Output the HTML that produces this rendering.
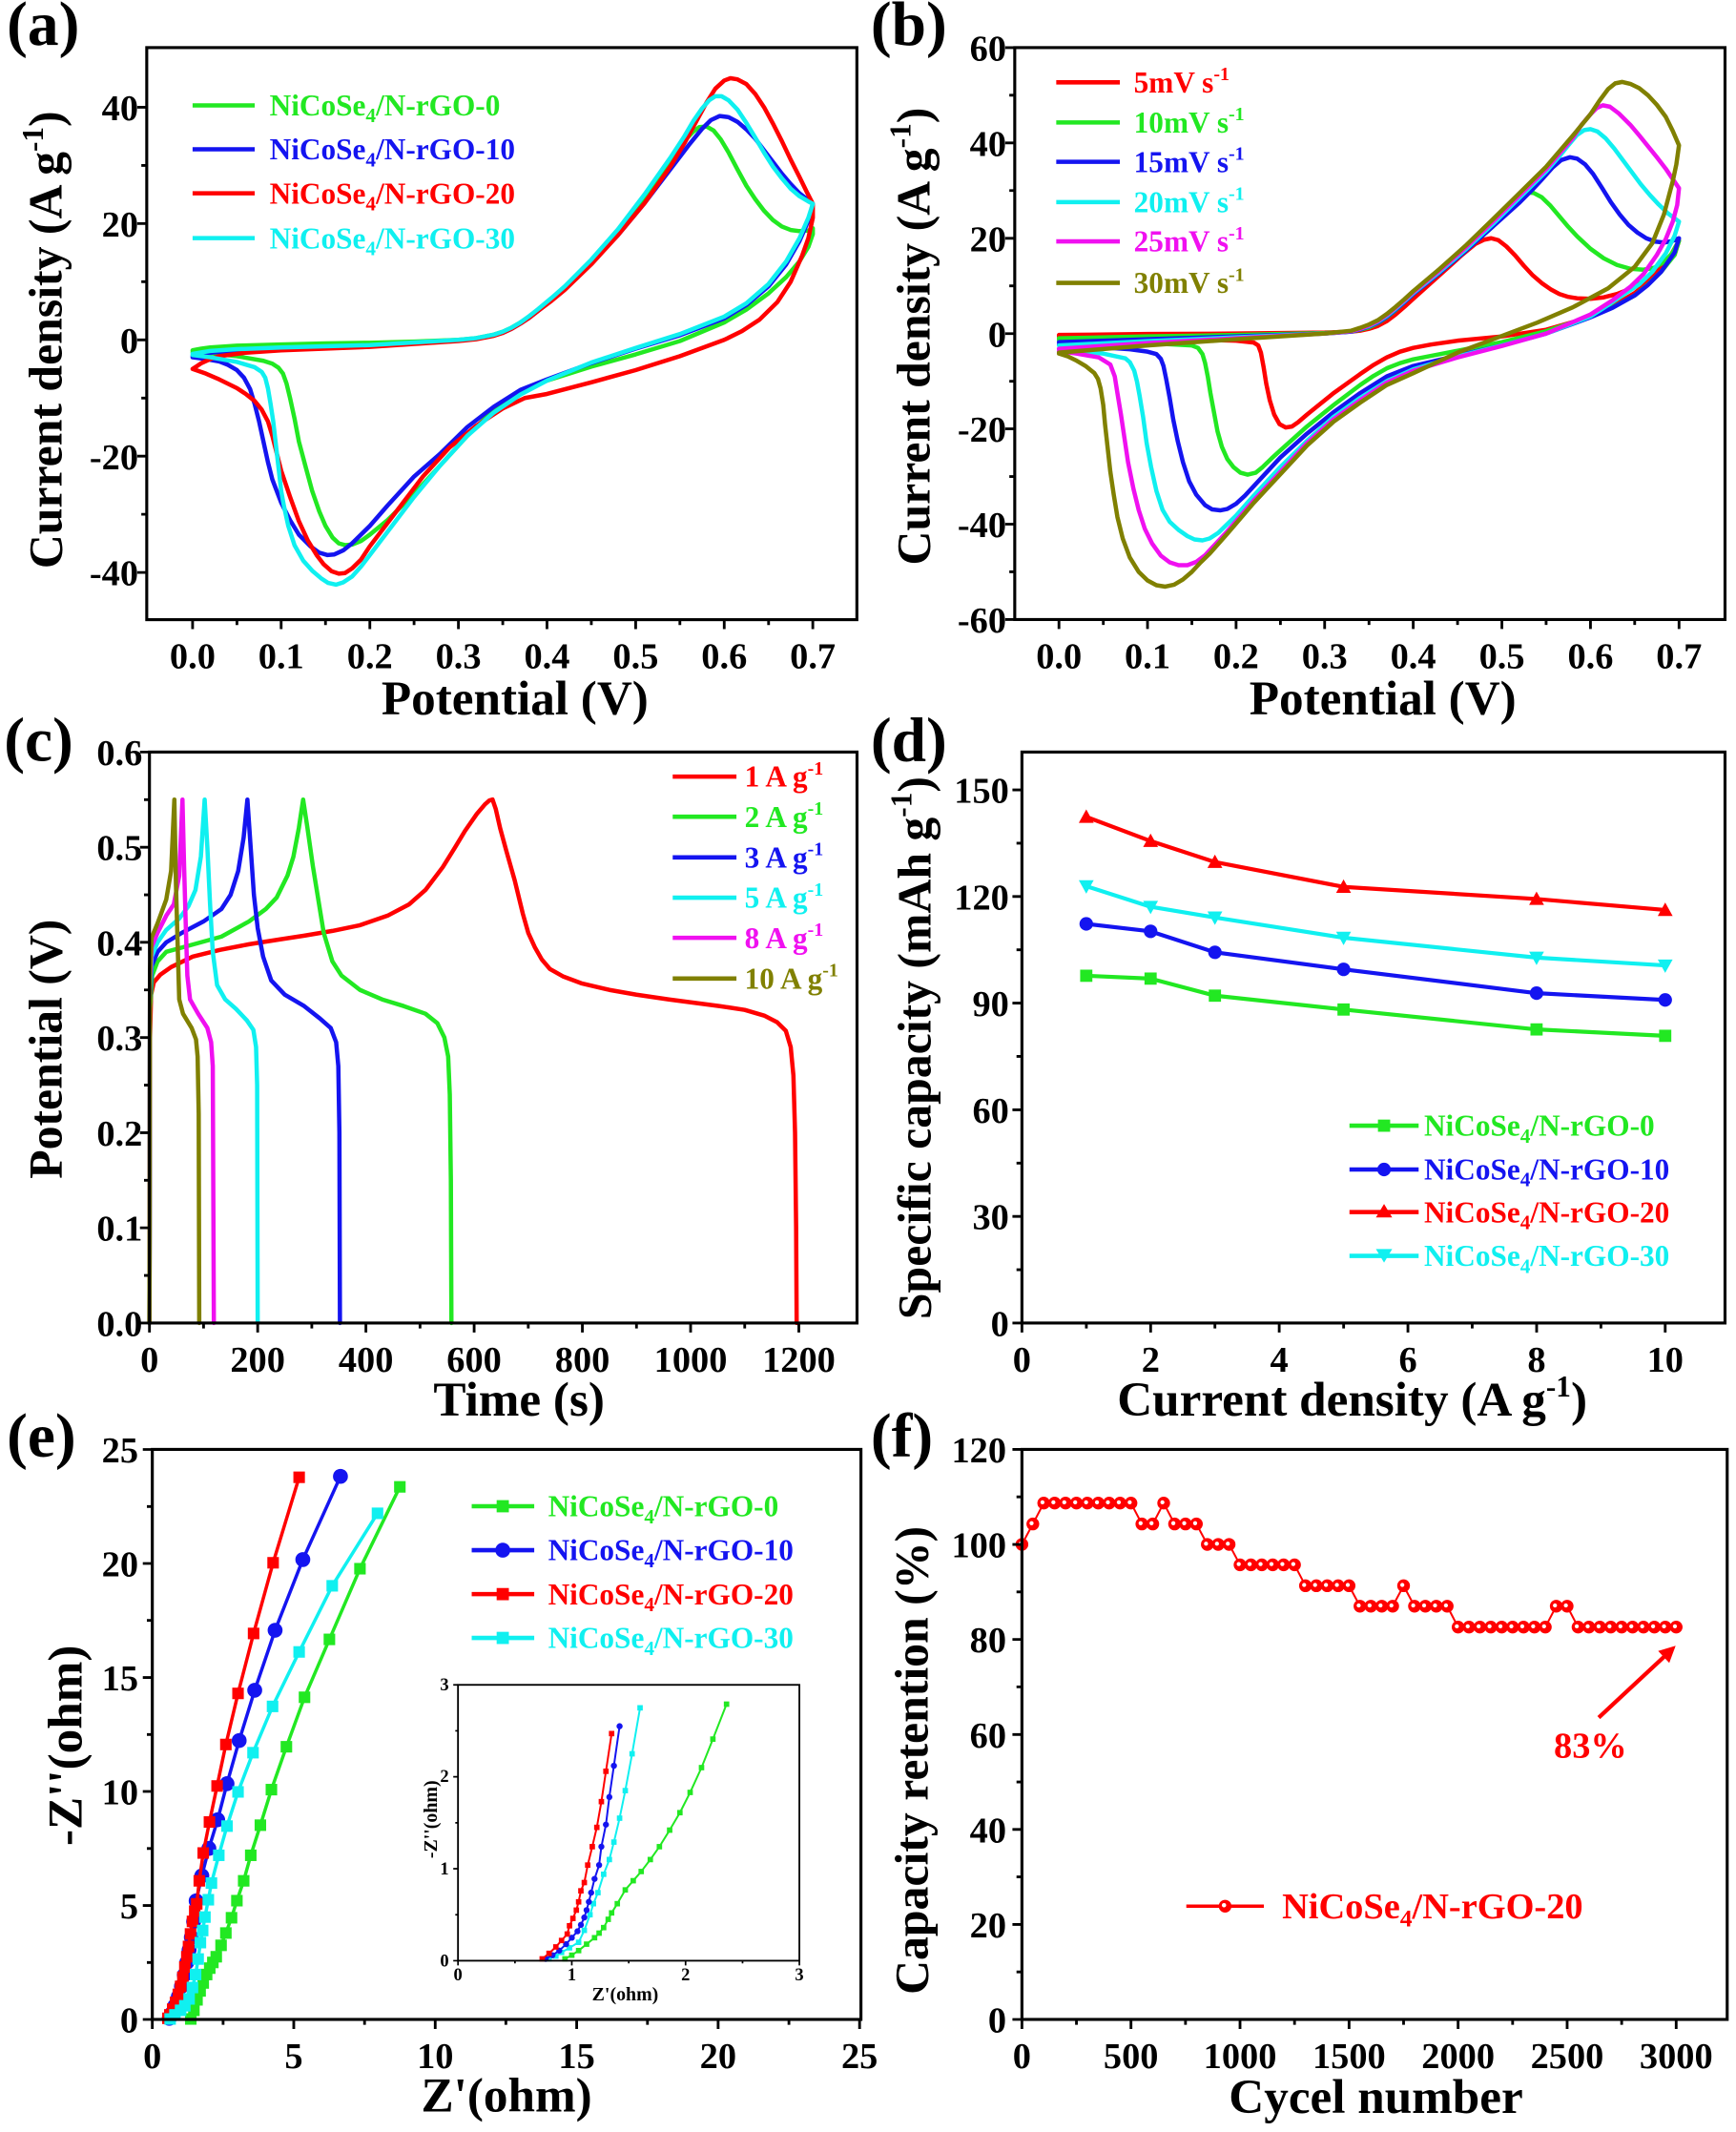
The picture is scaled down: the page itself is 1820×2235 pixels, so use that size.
<!DOCTYPE html>
<html><head><meta charset="utf-8">
<style>
html,body{margin:0;padding:0;background:#fff;}
svg{display:block;}
text{font-family:"Liberation Serif","Times New Roman",serif;font-weight:bold;}
.ns{fill:none;stroke-linejoin:round;stroke-linecap:round;}
</style></head>
<body>
<svg width="1820" height="2235" xmlns="http://www.w3.org/2000/svg">
<defs>
<marker id="dSq" markerUnits="userSpaceOnUse" markerWidth="0.1898" markerHeight="3.434" viewBox="0 0 10 10" refX="5" refY="5" preserveAspectRatio="none" overflow="visible"><rect width="10" height="10" fill="#22e822"/></marker>
<marker id="dCi" markerUnits="userSpaceOnUse" markerWidth="0.2108" markerHeight="3.816" viewBox="0 0 10 10" refX="5" refY="5" preserveAspectRatio="none" overflow="visible"><circle cx="5" cy="5" r="5" fill="#1414f0"/></marker>
<marker id="dTu" markerUnits="userSpaceOnUse" markerWidth="0.2319" markerHeight="4.197" viewBox="0 0 10 10" refX="5" refY="5" preserveAspectRatio="none" overflow="visible"><polygon points="5,10 0,1 10,1" fill="#ff0000"/></marker>
<marker id="dTd" markerUnits="userSpaceOnUse" markerWidth="0.2319" markerHeight="4.197" viewBox="0 0 10 10" refX="5" refY="5" preserveAspectRatio="none" overflow="visible"><polygon points="5,0 0,9 10,9" fill="#10f0f0"/></marker>
<marker id="eSqG" markerUnits="userSpaceOnUse" markerWidth="0.4075" markerHeight="0.5057" viewBox="0 0 10 10" refX="5" refY="5" preserveAspectRatio="none" overflow="visible"><rect width="10" height="10" fill="#22e822"/></marker>
<marker id="eSqR" markerUnits="userSpaceOnUse" markerWidth="0.4075" markerHeight="0.5057" viewBox="0 0 10 10" refX="5" refY="5" preserveAspectRatio="none" overflow="visible"><rect width="10" height="10" fill="#ff0000"/></marker>
<marker id="eSqC" markerUnits="userSpaceOnUse" markerWidth="0.4075" markerHeight="0.5057" viewBox="0 0 10 10" refX="5" refY="5" preserveAspectRatio="none" overflow="visible"><rect width="10" height="10" fill="#10f0f0"/></marker>
<marker id="eCiB" markerUnits="userSpaceOnUse" markerWidth="0.5273" markerHeight="0.6544" viewBox="0 0 10 10" refX="5" refY="5" preserveAspectRatio="none" overflow="visible"><circle cx="5" cy="5" r="5" fill="#1414f0"/></marker>
<marker id="iSqG" markerUnits="userSpaceOnUse" markerWidth="0.0477" markerHeight="0.059" viewBox="0 0 10 10" refX="5" refY="5" preserveAspectRatio="none" overflow="visible"><rect width="10" height="10" fill="#22e822"/></marker>
<marker id="iSqR" markerUnits="userSpaceOnUse" markerWidth="0.0477" markerHeight="0.059" viewBox="0 0 10 10" refX="5" refY="5" preserveAspectRatio="none" overflow="visible"><rect width="10" height="10" fill="#ff0000"/></marker>
<marker id="iSqC" markerUnits="userSpaceOnUse" markerWidth="0.0477" markerHeight="0.059" viewBox="0 0 10 10" refX="5" refY="5" preserveAspectRatio="none" overflow="visible"><rect width="10" height="10" fill="#10f0f0"/></marker>
<marker id="iCiB" markerUnits="userSpaceOnUse" markerWidth="0.0536" markerHeight="0.0664" viewBox="0 0 10 10" refX="5" refY="5" preserveAspectRatio="none" overflow="visible"><circle cx="5" cy="5" r="5" fill="#1414f0"/></marker>
<marker id="fCi" markerUnits="userSpaceOnUse" markerWidth="58.46" markerHeight="2.684" viewBox="0 0 10 10" refX="5" refY="5" preserveAspectRatio="none" overflow="visible"><circle cx="5" cy="5" r="5" fill="#ff0000"/><circle cx="4" cy="5.6" r="1.6" fill="#ffffff"/></marker>
</defs>

<g transform="scale(1.421875,1.421756)">

<!-- ================= PANEL A ================= -->
<text x="5" y="33" font-size="46">(a)</text>
<g transform="translate(142,250.6) scale(653.3,-4.2875)">
<polyline class="ns" vector-effect="non-scaling-stroke" stroke="#22e822" stroke-width="4.5" points="0,-1.8 0.01,-1.5 0.02,-1.3 0.05,-1.0 0.1,-0.8 0.15,-0.6 0.2,-0.5 0.25,-0.3 0.3,0 0.32,0.3 0.34,0.9 0.35,1.4 0.36,2.1 0.37,3 0.38,4 0.39,5.2 0.405,7 0.42,9 0.45,13.5 0.48,18.5 0.51,24 0.53,28.5 0.545,32 0.555,34.2 0.565,35.8 0.572,36.6 0.58,36.7 0.588,36 0.596,34.5 0.605,32.2 0.615,29.3 0.625,26.5 0.635,24.2 0.645,22.2 0.655,20.6 0.665,19.5 0.675,18.9 0.685,18.7 0.695,18.8 0.7,19.2 0.7,18.2 0.695,16 0.685,13.5 0.67,10.8 0.65,8 0.625,5.2 0.6,3 0.55,-0.2 0.5,-2.5 0.45,-4.6 0.4,-7 0.37,-8.7 0.34,-12 0.31,-16.5 0.28,-21.5 0.25,-26.5 0.22,-31 0.2,-33.5 0.19,-34.6 0.18,-35.2 0.172,-35.3 0.165,-35 0.158,-34 0.15,-32 0.143,-29.5 0.135,-26 0.127,-21.5 0.12,-17.5 0.115,-13.5 0.11,-10 0.106,-7.5 0.102,-5.8 0.097,-4.8 0.09,-4.1 0.08,-3.6 0.05,-2.8 0.02,-2.3 0,-2.1"/>
<polyline class="ns" vector-effect="non-scaling-stroke" stroke="#1414f0" stroke-width="4.5" points="0,-2.8 0.02,-2.2 0.05,-1.8 0.1,-1.5 0.2,-1.0 0.3,-0.1 0.32,0.2 0.34,0.8 0.35,1.2 0.36,1.9 0.37,2.8 0.38,3.8 0.39,5 0.405,6.8 0.42,8.8 0.45,13.2 0.48,18 0.51,23.5 0.54,29.5 0.56,33.5 0.575,36.3 0.585,37.8 0.595,38.5 0.605,38.3 0.615,37.5 0.625,36.2 0.635,34.6 0.645,32.6 0.655,30.6 0.665,28.6 0.675,26.8 0.685,25.2 0.695,24 0.7,23.4 0.695,20.5 0.685,17 0.67,13 0.65,9.2 0.625,6 0.6,3.7 0.55,0.8 0.5,-1.5 0.45,-4 0.4,-6.8 0.37,-8.6 0.34,-11.5 0.31,-15 0.28,-19.5 0.25,-23.5 0.22,-28.5 0.2,-32 0.19,-33.5 0.18,-35 0.17,-36.2 0.16,-36.9 0.152,-37 0.143,-36.6 0.133,-35.5 0.12,-33.5 0.11,-31 0.1,-28 0.09,-24 0.085,-21 0.08,-17.5 0.075,-14 0.07,-11 0.065,-8.5 0.058,-6.5 0.05,-5.2 0.04,-4.3 0.03,-3.7 0.015,-3.3 0,-3.0"/>
<polyline class="ns" vector-effect="non-scaling-stroke" stroke="#ff0000" stroke-width="4.5" points="0,-5 0.005,-4.5 0.01,-4 0.02,-3.3 0.03,-2.8 0.06,-2.2 0.1,-1.8 0.2,-1.2 0.3,-0.2 0.32,0.1 0.34,0.7 0.35,1.2 0.36,1.9 0.37,2.8 0.38,3.8 0.39,5 0.405,6.7 0.42,8.6 0.45,13 0.48,18 0.51,23.5 0.54,30 0.555,33.8 0.57,38 0.58,40.8 0.59,43.2 0.6,44.6 0.607,45 0.615,44.8 0.625,44 0.635,42.3 0.645,40 0.655,37.2 0.665,34.2 0.675,31 0.685,28 0.693,25.5 0.7,23.4 0.7,21 0.695,17.5 0.688,14.5 0.675,10 0.66,6.5 0.64,3.5 0.62,1.5 0.6,0 0.55,-2.8 0.5,-5.2 0.45,-7.3 0.4,-9.3 0.375,-10 0.35,-11.8 0.32,-14.8 0.29,-18.5 0.26,-23.5 0.23,-29.5 0.2,-35.5 0.19,-37.8 0.18,-39.3 0.172,-40.1 0.165,-40.2 0.157,-39.8 0.148,-38.6 0.14,-37 0.13,-34.5 0.12,-31.2 0.11,-27 0.1,-22.5 0.095,-19.5 0.09,-16.5 0.085,-14 0.078,-12 0.07,-10.5 0.06,-9.3 0.05,-8.3 0.03,-6.8 0.015,-5.8 0,-5"/>
<polyline class="ns" vector-effect="non-scaling-stroke" stroke="#10f0f0" stroke-width="4.5" points="0,-2.4 0.02,-1.9 0.05,-1.6 0.1,-1.3 0.2,-0.9 0.3,0 0.32,0.3 0.34,0.9 0.35,1.4 0.36,2.1 0.37,3 0.38,4.1 0.39,5.3 0.405,7.2 0.42,9.2 0.45,13.8 0.48,19 0.51,25 0.54,31.5 0.555,35 0.565,37.6 0.575,39.8 0.583,41.2 0.59,41.9 0.597,41.9 0.605,41.2 0.615,39.6 0.625,37.3 0.635,34.8 0.645,32.2 0.655,29.8 0.665,27.8 0.675,26 0.685,24.7 0.695,23.8 0.7,23.4 0.695,21 0.685,17.5 0.67,13.5 0.65,9.6 0.625,6.3 0.6,4 0.55,1 0.5,-1.4 0.45,-3.9 0.4,-7 0.37,-9.4 0.34,-12.5 0.31,-16.5 0.28,-21.5 0.25,-27 0.22,-33 0.2,-37 0.19,-39 0.18,-40.7 0.17,-41.7 0.162,-42.1 0.153,-41.8 0.145,-41 0.135,-39.7 0.125,-38 0.115,-35.3 0.108,-32 0.103,-28.5 0.1,-26 0.097,-22 0.094,-18 0.091,-14 0.088,-11 0.085,-8.3 0.082,-6.5 0.078,-5.5 0.07,-4.7 0.05,-3.8 0.02,-3 0,-2.6"/>
</g>
<rect x="108.2" y="35.1" width="523.6" height="421.8" fill="none" stroke="#000" stroke-width="2.2"/>
<path stroke="#000" stroke-width="2" fill="none" d="M142 456.9v7M207.3 456.9v7M272.7 456.9v7M338 456.9v7M403.3 456.9v7M468.7 456.9v7M534 456.9v7M599.3 456.9v7M174.7 456.9v4M240 456.9v4M305.3 456.9v4M370.7 456.9v4M436 456.9v4M501.3 456.9v4M566.7 456.9v4M108.2 79.1h-7M108.2 164.85h-7M108.2 250.6h-7M108.2 336.35h-7M108.2 422.1h-7M108.2 122h-4M108.2 207.7h-4M108.2 293.5h-4M108.2 379.2h-4"/>
<g font-size="27" text-anchor="middle">
<text x="142" y="492.6">0.0</text><text x="207.3" y="492.6">0.1</text><text x="272.7" y="492.6">0.2</text><text x="338" y="492.6">0.3</text><text x="403.3" y="492.6">0.4</text><text x="468.7" y="492.6">0.5</text><text x="534" y="492.6">0.6</text><text x="599.3" y="492.6">0.7</text>
</g>
<g font-size="27" text-anchor="end">
<text x="102" y="88.6">40</text><text x="102" y="174.4">20</text><text x="102" y="260.1">0</text><text x="102" y="345.9">-20</text><text x="102" y="431.6">-40</text>
</g>
<text x="379.7" y="527" font-size="36" text-anchor="middle">Potential (V)</text>
<text transform="translate(45.5,250.6) rotate(-90)" font-size="35" text-anchor="middle">Current density (A g<tspan font-size="22" dy="-14">-1</tspan><tspan dy="14">)</tspan></text>
<g stroke-width="3.2">
<line x1="142" y1="77.7" x2="187.8" y2="77.7" stroke="#22e822"/>
<line x1="142" y1="110.1" x2="187.8" y2="110.1" stroke="#1414f0"/>
<line x1="142" y1="142.5" x2="187.8" y2="142.5" stroke="#ff0000"/>
<line x1="142" y1="175.6" x2="187.8" y2="175.6" stroke="#10f0f0"/>
</g>
<g font-size="22">
<text x="198.8" y="85.2" fill="#22e822">NiCoSe<tspan font-size="15" dy="5">4</tspan><tspan dy="-5">/N-rGO-0</tspan></text>
<text x="198.8" y="117.6" fill="#1414f0">NiCoSe<tspan font-size="15" dy="5">4</tspan><tspan dy="-5">/N-rGO-10</tspan></text>
<text x="198.8" y="150" fill="#ff0000">NiCoSe<tspan font-size="15" dy="5">4</tspan><tspan dy="-5">/N-rGO-20</tspan></text>
<text x="198.8" y="183.1" fill="#10f0f0">NiCoSe<tspan font-size="15" dy="5">4</tspan><tspan dy="-5">/N-rGO-30</tspan></text>
</g>

<!-- ================= PANEL B ================= -->
<text x="642" y="33" font-size="46">(b)</text>
<g transform="translate(780.8,245.95) scale(653.1,-3.514)">
<polyline class="ns" vector-effect="non-scaling-stroke" stroke="#ff0000" stroke-width="4.5" points="0,-0.3 0.1,-0.1 0.2,0 0.3,0.2 0.33,0.4 0.34,0.6 0.35,1 0.36,1.6 0.37,2.6 0.38,4 0.39,5.6 0.4,7.3 0.415,9.8 0.43,12.3 0.445,14.8 0.455,16.5 0.47,18.8 0.48,19.7 0.488,20 0.496,19.6 0.505,18.3 0.515,16.4 0.525,14.2 0.535,12.2 0.545,10.6 0.555,9.3 0.565,8.3 0.575,7.7 0.585,7.4 0.6,7.3 0.615,7.6 0.63,8.3 0.645,9.4 0.66,11 0.675,13.2 0.69,16.2 0.7,19.5 0.695,16.5 0.68,13.5 0.665,10.8 0.65,8.5 0.625,5.7 0.6,3.5 0.55,0.8 0.5,-0.6 0.45,-1.5 0.42,-2.3 0.4,-3 0.385,-3.8 0.37,-5 0.355,-6.6 0.34,-8.5 0.31,-12.5 0.29,-15.5 0.28,-17 0.27,-18.6 0.263,-19.5 0.256,-19.7 0.249,-19 0.243,-17 0.238,-14 0.234,-10.5 0.231,-7 0.228,-4 0.225,-2.5 0.22,-1.9 0.2,-1.5 0.1,-1 0,-0.6"/>
<polyline class="ns" vector-effect="non-scaling-stroke" stroke="#22e822" stroke-width="4.5" points="0,-1 0.1,-0.6 0.2,-0.3 0.3,0.1 0.33,0.4 0.34,0.8 0.35,1.3 0.36,2.2 0.37,3.4 0.38,4.9 0.39,6.6 0.4,8.3 0.43,12.8 0.46,17.5 0.49,22.5 0.5,24.5 0.51,26.8 0.52,28.8 0.528,29.6 0.536,29.5 0.545,28.6 0.555,26.8 0.565,24.6 0.575,22.4 0.585,20.4 0.6,17.8 0.615,15.8 0.63,14.4 0.645,13.6 0.66,13.4 0.672,13.8 0.683,15 0.692,16.8 0.7,19.5 0.695,16.5 0.68,13 0.665,10.3 0.65,8 0.625,5.5 0.6,3.6 0.55,0.5 0.5,-1.8 0.45,-3.6 0.4,-5.4 0.385,-6.2 0.37,-7.3 0.355,-8.9 0.34,-10.8 0.31,-15 0.28,-19.5 0.25,-24.5 0.24,-26.2 0.23,-28 0.222,-29.2 0.213,-29.6 0.205,-29.2 0.197,-28 0.19,-26.3 0.184,-23.8 0.179,-20.5 0.175,-16.5 0.171,-12.5 0.168,-9 0.165,-6.2 0.162,-4.3 0.157,-3 0.15,-2.5 0.1,-2 0,-1.3"/>
<polyline class="ns" vector-effect="non-scaling-stroke" stroke="#1414f0" stroke-width="4.5" points="0,-1.8 0.1,-1.2 0.2,-0.6 0.3,0 0.33,0.4 0.34,0.9 0.35,1.5 0.36,2.3 0.37,3.5 0.38,5 0.39,6.6 0.4,8.3 0.43,12.8 0.46,17.5 0.49,22.5 0.52,27.5 0.535,30.3 0.545,32.3 0.557,34.8 0.567,36.4 0.577,37 0.585,36.7 0.594,35.5 0.603,33.5 0.613,30.6 0.623,27.6 0.633,25 0.643,22.8 0.653,21.2 0.663,20 0.673,19.3 0.683,19.1 0.692,19.4 0.7,20 0.695,17 0.68,13 0.665,10.2 0.65,8 0.625,5.4 0.6,3.4 0.55,0 0.5,-2.5 0.45,-4.6 0.4,-6.8 0.37,-9 0.34,-12.5 0.31,-16.5 0.28,-21 0.25,-26 0.23,-30 0.22,-32 0.21,-34 0.2,-35.7 0.19,-36.8 0.182,-37.1 0.173,-36.9 0.165,-36 0.155,-33.8 0.147,-31 0.14,-27 0.134,-22.5 0.129,-18 0.125,-13.5 0.121,-9.5 0.118,-6.8 0.115,-5.3 0.11,-4.3 0.1,-3.8 0.08,-3.3 0,-2.3"/>
<polyline class="ns" vector-effect="non-scaling-stroke" stroke="#10f0f0" stroke-width="4.5" points="0,-2.5 0.1,-1.6 0.2,-0.8 0.3,0 0.33,0.5 0.34,1 0.35,1.6 0.36,2.5 0.37,3.7 0.38,5.2 0.39,6.8 0.4,8.5 0.43,13 0.46,17.8 0.49,23 0.52,28.5 0.55,34 0.565,37.2 0.575,39.5 0.585,41.7 0.593,42.7 0.6,42.9 0.608,42.4 0.617,41 0.627,38.8 0.637,36.3 0.647,33.8 0.657,31.3 0.667,29.1 0.677,27.1 0.687,25.3 0.7,23.5 0.695,20.5 0.685,16.8 0.67,13 0.655,10.3 0.64,8.5 0.62,6 0.6,3.6 0.55,0 0.5,-2.5 0.45,-4.8 0.4,-7.5 0.37,-10 0.34,-13.5 0.31,-17.5 0.28,-22.5 0.25,-28 0.22,-34 0.2,-38.2 0.19,-40 0.18,-41.8 0.17,-43 0.162,-43.4 0.153,-43.2 0.145,-42.5 0.135,-41.2 0.125,-39.5 0.117,-37 0.11,-33 0.104,-28 0.099,-23 0.095,-17.5 0.091,-13 0.088,-10 0.085,-7.8 0.08,-6 0.075,-5.2 0.05,-4.2 0,-3.2"/>
<polyline class="ns" vector-effect="non-scaling-stroke" stroke="#f010f0" stroke-width="4.5" points="0,-3.2 0.1,-2 0.2,-1 0.3,0 0.33,0.5 0.34,1 0.35,1.7 0.36,2.6 0.37,3.9 0.38,5.4 0.39,7 0.4,8.7 0.43,13.3 0.46,18.2 0.49,23.5 0.52,29 0.55,34.5 0.58,41 0.59,43.8 0.6,46 0.607,47.3 0.614,47.9 0.622,47.6 0.632,46.2 0.645,43.8 0.655,41.6 0.665,39.3 0.675,37 0.685,34.6 0.693,32.4 0.7,30.5 0.698,27 0.693,23.5 0.685,19.8 0.675,16.5 0.66,12.5 0.645,9.8 0.625,7 0.6,4 0.55,0 0.5,-2.6 0.45,-5 0.4,-7.8 0.37,-10.3 0.34,-14 0.31,-18 0.28,-23 0.25,-29 0.22,-35 0.19,-41.5 0.175,-44.5 0.165,-46.5 0.155,-47.9 0.145,-48.6 0.135,-48.6 0.125,-48 0.115,-46.6 0.105,-44 0.097,-41 0.09,-37 0.084,-32.5 0.078,-27 0.074,-22 0.07,-17 0.066,-12.5 0.063,-9 0.058,-6.5 0.045,-5 0.02,-4.2 0,-3.7"/>
<polyline class="ns" vector-effect="non-scaling-stroke" stroke="#808000" stroke-width="4.5" points="0,-4 0.1,-2.5 0.2,-1.2 0.3,0 0.33,0.6 0.34,1.2 0.35,1.9 0.36,2.8 0.37,4.1 0.38,5.6 0.39,7.2 0.4,8.9 0.43,13.6 0.46,18.6 0.49,24 0.52,29.5 0.55,35 0.58,41.5 0.6,46 0.61,48.8 0.62,51.3 0.628,52.5 0.636,52.8 0.645,52.4 0.655,51.5 0.665,50 0.675,48 0.685,45.5 0.693,42.5 0.7,39.5 0.697,35.5 0.693,32 0.683,25 0.67,19 0.65,14 0.62,9.5 0.58,5.5 0.54,2.3 0.5,-0.5 0.45,-4 0.4,-8.3 0.37,-10.8 0.34,-14.5 0.31,-18.5 0.28,-23.5 0.25,-29.5 0.22,-35.5 0.19,-42 0.17,-46.2 0.16,-48 0.15,-50 0.14,-51.6 0.13,-52.7 0.12,-53.1 0.11,-52.8 0.1,-51.8 0.09,-50 0.08,-47 0.072,-43 0.066,-38.5 0.062,-34 0.058,-29 0.055,-24 0.052,-19 0.05,-15 0.047,-11.5 0.044,-9.5 0.04,-8.3 0.03,-6.8 0.02,-5.7 0.01,-4.8 0,-4.2"/>
</g>
<rect x="748.2" y="35.1" width="523.7" height="421.7" fill="none" stroke="#000" stroke-width="2.2"/>
<path stroke="#000" stroke-width="2" fill="none" d="M780.8 456.8v7M846.1 456.8v7M911.4 456.8v7M976.7 456.8v7M1042 456.8v7M1107.4 456.8v7M1172.7 456.8v7M1238 456.8v7M813.5 456.8v4M878.8 456.8v4M944.1 456.8v4M1009.4 456.8v4M1074.7 456.8v4M1140 456.8v4M1205.3 456.8v4M748.2 35.1h-7M748.2 105.4h-7M748.2 175.7h-7M748.2 246h-7M748.2 316.2h-7M748.2 386.5h-7M748.2 456.8h-7M748.2 70.2h-4M748.2 140.5h-4M748.2 210.8h-4M748.2 281.1h-4M748.2 351.4h-4M748.2 421.6h-4"/>
<g font-size="27" text-anchor="middle">
<text x="780.8" y="492.6">0.0</text><text x="846.1" y="492.6">0.1</text><text x="911.4" y="492.6">0.2</text><text x="976.7" y="492.6">0.3</text><text x="1042" y="492.6">0.4</text><text x="1107.4" y="492.6">0.5</text><text x="1172.7" y="492.6">0.6</text><text x="1238" y="492.6">0.7</text>
</g>
<g font-size="27" text-anchor="end">
<text x="742" y="44.6">60</text><text x="742" y="114.9">40</text><text x="742" y="185.2">20</text><text x="742" y="255.5">0</text><text x="742" y="325.7">-20</text><text x="742" y="396">-40</text><text x="742" y="466.3">-60</text>
</g>
<text x="1019.6" y="527" font-size="36" text-anchor="middle">Potential (V)</text>
<text transform="translate(685.3,248) rotate(-90)" font-size="35" text-anchor="middle">Current density (A g<tspan font-size="22" dy="-14">-1</tspan><tspan dy="14">)</tspan></text>
<g stroke-width="3.2">
<line x1="778.8" y1="60.7" x2="825.7" y2="60.7" stroke="#ff0000"/>
<line x1="778.8" y1="90.3" x2="825.7" y2="90.3" stroke="#22e822"/>
<line x1="778.8" y1="119.3" x2="825.7" y2="119.3" stroke="#1414f0"/>
<line x1="778.8" y1="149" x2="825.7" y2="149" stroke="#10f0f0"/>
<line x1="778.8" y1="178" x2="825.7" y2="178" stroke="#f010f0"/>
<line x1="778.8" y1="208.6" x2="825.7" y2="208.6" stroke="#808000"/>
</g>
<g font-size="22">
<text x="836" y="68.2" fill="#ff0000">5mV s<tspan font-size="14" dy="-9">-1</tspan></text>
<text x="836" y="97.8" fill="#22e822">10mV s<tspan font-size="14" dy="-9">-1</tspan></text>
<text x="836" y="126.8" fill="#1414f0">15mV s<tspan font-size="14" dy="-9">-1</tspan></text>
<text x="836" y="156.5" fill="#10f0f0">20mV s<tspan font-size="14" dy="-9">-1</tspan></text>
<text x="836" y="185.5" fill="#f010f0">25mV s<tspan font-size="14" dy="-9">-1</tspan></text>
<text x="836" y="216.1" fill="#808000">30mV s<tspan font-size="14" dy="-9">-1</tspan></text>
</g>

<!-- ================= PANEL C ================= -->
<text x="3" y="561" font-size="46">(c)</text>
<g transform="translate(110.2,975.5) scale(0.399,-701.7)">
<polyline class="ns" vector-effect="non-scaling-stroke" stroke="#ff0000" stroke-width="4.5" points="0,0 1,0.3 3,0.345 8,0.358 20,0.366 40,0.374 80,0.385 130,0.392 184,0.398 240,0.403 286,0.407 338,0.412 389,0.418 440,0.428 480,0.44 510,0.455 542,0.479 565,0.5 583,0.517 605,0.535 620,0.545 628,0.549 634,0.55 640,0.54 648,0.52 660,0.495 675,0.465 690,0.43 700,0.41 712,0.395 725,0.382 740,0.372 765,0.364 798,0.357 850,0.35 900,0.345 960,0.34 1054,0.333 1100,0.329 1136,0.323 1160,0.316 1176,0.307 1185,0.29 1190,0.26 1193,0.2 1195,0.1 1196,0"/>
<polyline class="ns" vector-effect="non-scaling-stroke" stroke="#22e822" stroke-width="4.5" points="0,0 1,0.33 5,0.365 15,0.38 31,0.39 82,0.398 133,0.406 184,0.422 215,0.435 235,0.447 255,0.47 266,0.49 276,0.52 284,0.55 292,0.52 302,0.48 312,0.445 322,0.41 338,0.38 355,0.365 389,0.35 430,0.34 470,0.333 510,0.325 532,0.315 545,0.3 552,0.28 555,0.24 557,0.15 558,0"/>
<polyline class="ns" vector-effect="non-scaling-stroke" stroke="#1414f0" stroke-width="4.5" points="0,0 1,0.34 4,0.375 15,0.39 31,0.4 60,0.41 100,0.422 133,0.435 150,0.45 164,0.475 174,0.51 181,0.55 187,0.5 193,0.45 200,0.415 210,0.385 225,0.36 250,0.345 286,0.333 315,0.32 335,0.31 345,0.295 349,0.27 351,0.2 352,0"/>
<polyline class="ns" vector-effect="non-scaling-stroke" stroke="#10f0f0" stroke-width="4.5" points="0,0 1,0.35 4,0.385 15,0.4 31,0.413 55,0.425 72,0.438 85,0.455 95,0.49 102,0.55 107,0.5 112,0.44 117,0.39 125,0.355 140,0.34 160,0.33 180,0.318 192,0.308 197,0.29 199,0.25 200,0"/>
<polyline class="ns" vector-effect="non-scaling-stroke" stroke="#f010f0" stroke-width="4.5" points="0,0 1,0.36 4,0.395 15,0.41 31,0.428 45,0.44 55,0.47 61,0.55 64,0.48 67,0.42 70,0.365 75,0.34 90,0.325 107,0.31 114,0.295 117,0.27 119,0"/>
<polyline class="ns" vector-effect="non-scaling-stroke" stroke="#808000" stroke-width="4.5" points="0,0 1,0.37 4,0.405 15,0.42 31,0.445 40,0.475 46,0.55 49,0.46 52,0.4 55,0.34 62,0.325 78,0.31 86,0.298 89,0.28 91,0.22 92,0"/>
</g>
<rect x="110.2" y="554.5" width="521.7" height="421" fill="none" stroke="#000" stroke-width="2.2"/>
<path stroke="#000" stroke-width="2" fill="none" d="M110.2 975.5v7M190 975.5v7M269.8 975.5v7M349.6 975.5v7M429.4 975.5v7M509.2 975.5v7M589 975.5v7M150.1 975.5v4M229.9 975.5v4M309.7 975.5v4M389.5 975.5v4M469.3 975.5v4M549.1 975.5v4M110.2 975.5h-7M110.2 905.3h-7M110.2 835.2h-7M110.2 765h-7M110.2 694.8h-7M110.2 624.7h-7M110.2 554.5h-7M110.2 940.4h-4M110.2 870.3h-4M110.2 800.1h-4M110.2 729.9h-4M110.2 659.8h-4M110.2 589.6h-4"/>
<g font-size="27" text-anchor="middle">
<text x="110.2" y="1011.3">0</text><text x="190" y="1011.3">200</text><text x="269.8" y="1011.3">400</text><text x="349.6" y="1011.3">600</text><text x="429.4" y="1011.3">800</text><text x="509.2" y="1011.3">1000</text><text x="589" y="1011.3">1200</text>
</g>
<g font-size="27" text-anchor="end">
<text x="105" y="985">0.0</text><text x="105" y="914.8">0.1</text><text x="105" y="844.7">0.2</text><text x="105" y="774.5">0.3</text><text x="105" y="704.3">0.4</text><text x="105" y="634.2">0.5</text><text x="105" y="564">0.6</text>
</g>
<text x="382.7" y="1043.7" font-size="36" text-anchor="middle">Time (s)</text>
<text transform="translate(45.3,773.5) rotate(-90)" font-size="35" text-anchor="middle">Potential (V)</text>
<g stroke-width="3.2">
<line x1="496" y1="572.6" x2="543" y2="572.6" stroke="#ff0000"/>
<line x1="496" y1="602.2" x2="543" y2="602.2" stroke="#22e822"/>
<line x1="496" y1="632.2" x2="543" y2="632.2" stroke="#1414f0"/>
<line x1="496" y1="661.9" x2="543" y2="661.9" stroke="#10f0f0"/>
<line x1="496" y1="691.5" x2="543" y2="691.5" stroke="#f010f0"/>
<line x1="496" y1="721.5" x2="543" y2="721.5" stroke="#808000"/>
</g>
<g font-size="22">
<text x="549" y="580.1" fill="#ff0000">1 A g<tspan font-size="14" dy="-9">-1</tspan></text>
<text x="549" y="609.7" fill="#22e822">2 A g<tspan font-size="14" dy="-9">-1</tspan></text>
<text x="549" y="639.7" fill="#1414f0">3 A g<tspan font-size="14" dy="-9">-1</tspan></text>
<text x="549" y="669.4" fill="#10f0f0">5 A g<tspan font-size="14" dy="-9">-1</tspan></text>
<text x="549" y="699" fill="#f010f0">8 A g<tspan font-size="14" dy="-9">-1</tspan></text>
<text x="549" y="729" fill="#808000">10 A g<tspan font-size="14" dy="-9">-1</tspan></text>
</g>

<!-- ================= PANEL D ================= -->
<text x="642" y="561" font-size="46">(d)</text>
<g transform="translate(753.5,975.5) scale(47.43,-2.6207)">
<polyline class="ns" vector-effect="non-scaling-stroke" stroke="#ff0000" stroke-width="4.2" marker-start="url(#dTu)" marker-mid="url(#dTu)" marker-end="url(#dTu)" points="1,142.4 2,135.6 3,129.7 5,122.7 8,119.3 10,116.2"/>
<polyline class="ns" vector-effect="non-scaling-stroke" stroke="#10f0f0" stroke-width="4.2" marker-start="url(#dTd)" marker-mid="url(#dTd)" marker-end="url(#dTd)" points="1,122.9 2,117.1 3,114.1 5,108.4 8,102.8 10,100.6"/>
<polyline class="ns" vector-effect="non-scaling-stroke" stroke="#1414f0" stroke-width="4.2" marker-start="url(#dCi)" marker-mid="url(#dCi)" marker-end="url(#dCi)" points="1,112.3 2,110.2 3,104.3 5,99.5 8,92.8 10,90.9"/>
<polyline class="ns" vector-effect="non-scaling-stroke" stroke="#22e822" stroke-width="4.2" marker-start="url(#dSq)" marker-mid="url(#dSq)" marker-end="url(#dSq)" points="1,97.7 2,96.9 3,92.1 5,88.2 8,82.6 10,80.8"/>
</g>
<rect x="753.5" y="554.5" width="518.4" height="421" fill="none" stroke="#000" stroke-width="2.2"/>
<path stroke="#000" stroke-width="2" fill="none" d="M753.5 975.5v7M848.4 975.5v7M943.2 975.5v7M1038.1 975.5v7M1133 975.5v7M1227.8 975.5v7M801 975.5v4M895.8 975.5v4M990.7 975.5v4M1085.5 975.5v4M1180.4 975.5v4M753.5 975.5h-7M753.5 896.9h-7M753.5 818.3h-7M753.5 739.6h-7M753.5 661h-7M753.5 582.4h-7M753.5 936.2h-4M753.5 857.6h-4M753.5 778.9h-4M753.5 700.3h-4M753.5 621.7h-4"/>
<g font-size="27" text-anchor="middle">
<text x="753.5" y="1011.3">0</text><text x="848.4" y="1011.3">2</text><text x="943.2" y="1011.3">4</text><text x="1038.1" y="1011.3">6</text><text x="1133" y="1011.3">8</text><text x="1227.8" y="1011.3">10</text>
</g>
<g font-size="27" text-anchor="end">
<text x="744" y="985">0</text><text x="744" y="906.4">30</text><text x="744" y="827.8">60</text><text x="744" y="749.1">90</text><text x="744" y="670.5">120</text><text x="744" y="591.9">150</text>
</g>
<text x="997" y="1043.7" font-size="36" text-anchor="middle">Current density (A g<tspan font-size="22" dy="-14">-1</tspan><tspan dy="14">)</tspan></text>
<text transform="translate(686,772.7) rotate(-90)" font-size="35" text-anchor="middle">Specific capacity (mAh g<tspan font-size="22" dy="-14">-1</tspan><tspan dy="14">)</tspan></text>
<g stroke-width="3.2">
<line x1="995" y1="830" x2="1046" y2="830" stroke="#22e822"/>
<line x1="995" y1="862.3" x2="1046" y2="862.3" stroke="#1414f0"/>
<line x1="995" y1="893.7" x2="1046" y2="893.7" stroke="#ff0000"/>
<line x1="995" y1="926" x2="1046" y2="926" stroke="#10f0f0"/>
</g>
<rect x="1016" y="825.5" width="9" height="9" fill="#22e822"/>
<circle cx="1020.5" cy="862.3" r="5" fill="#1414f0"/>
<polygon points="1020.5,887.7 1014.5,897.7 1026.5,897.7" fill="#ff0000"/>
<polygon points="1014.5,921 1026.5,921 1020.5,931" fill="#10f0f0"/>
<g font-size="22">
<text x="1050" y="837.5" fill="#22e822">NiCoSe<tspan font-size="15" dy="5">4</tspan><tspan dy="-5">/N-rGO-0</tspan></text>
<text x="1050" y="869.8" fill="#1414f0">NiCoSe<tspan font-size="15" dy="5">4</tspan><tspan dy="-5">/N-rGO-10</tspan></text>
<text x="1050" y="901.2" fill="#ff0000">NiCoSe<tspan font-size="15" dy="5">4</tspan><tspan dy="-5">/N-rGO-20</tspan></text>
<text x="1050" y="933.5" fill="#10f0f0">NiCoSe<tspan font-size="15" dy="5">4</tspan><tspan dy="-5">/N-rGO-30</tspan></text>
</g>

<!-- ================= PANEL E ================= -->
<text x="5" y="1074" font-size="46">(e)</text>
<g transform="translate(112.3,1489) scale(20.86,-16.81)">
<polyline class="ns" vector-effect="non-scaling-stroke" stroke="#22e822" stroke-width="3.5" marker-start="url(#eSqG)" marker-mid="url(#eSqG)" marker-end="url(#eSqG)" points="1.36,0.02 1.47,0.4 1.58,0.86 1.69,1.25 1.8,1.6 1.92,1.97 2.03,2.25 2.14,2.5 2.26,2.75 2.43,3.25 2.6,3.79 2.8,4.46 2.99,5.21 3.23,6.08 3.48,7.2 3.82,8.52 4.21,10.08 4.74,11.96 5.38,14.13 6.26,16.67 7.34,19.77 8.75,23.36"/>
<polyline class="ns" vector-effect="non-scaling-stroke" stroke="#1414f0" stroke-width="3.5" marker-start="url(#eCiB)" marker-mid="url(#eCiB)" marker-end="url(#eCiB)" points="0.6,0.05 0.68,0.25 0.8,0.6 0.92,1.0 1.03,1.45 1.13,1.95 1.22,2.5 1.3,3.05 1.38,3.6 1.46,4.3 1.55,5.2 1.75,6.3 2.0,7.5 2.31,8.76 2.64,10.34 3.07,12.23 3.62,14.44 4.34,17.07 5.32,20.17 6.65,23.82"/>
<polyline class="ns" vector-effect="non-scaling-stroke" stroke="#ff0000" stroke-width="3.5" marker-start="url(#eSqR)" marker-mid="url(#eSqR)" marker-end="url(#eSqR)" points="0.55,0.05 0.62,0.2 0.72,0.45 0.82,0.75 0.92,1.1 1.0,1.45 1.08,1.85 1.15,2.3 1.22,2.75 1.28,3.2 1.35,3.75 1.42,4.3 1.5,4.75 1.57,5.07 1.66,6.08 1.8,7.3 2.02,8.66 2.29,10.24 2.6,12.06 3.03,14.3 3.58,16.93 4.27,20.03 5.19,23.78"/>
<polyline class="ns" vector-effect="non-scaling-stroke" stroke="#10f0f0" stroke-width="3.5" marker-start="url(#eSqC)" marker-mid="url(#eSqC)" marker-end="url(#eSqC)" points="0.63,0.02 0.8,0.2 1.0,0.4 1.15,0.6 1.3,0.9 1.42,1.4 1.53,1.97 1.62,2.65 1.7,3.37 1.78,3.9 1.86,4.49 1.98,5.25 2.09,5.98 2.35,7.2 2.64,8.48 3.03,9.98 3.56,11.7 4.25,13.73 5.19,16.12 6.36,19.02 7.96,22.2"/>
</g>
<rect x="112.3" y="1068.7" width="522.5" height="420.3" fill="none" stroke="#000" stroke-width="2.2"/>
<path stroke="#000" stroke-width="2" fill="none" d="M112.3 1489v7M216.6 1489v7M320.9 1489v7M425.2 1489v7M529.5 1489v7M633.8 1489v7M164.5 1489v4M268.8 1489v4M373 1489v4M477.4 1489v4M581.7 1489v4M112.3 1489h-7M112.3 1405h-7M112.3 1320.9h-7M112.3 1236.9h-7M112.3 1152.8h-7M112.3 1068.75h-7M112.3 1447h-4M112.3 1363h-4M112.3 1278.9h-4M112.3 1194.8h-4M112.3 1110.8h-4"/>
<g font-size="27" text-anchor="middle">
<text x="112.3" y="1524.8">0</text><text x="216.6" y="1524.8">5</text><text x="320.9" y="1524.8">10</text><text x="425.2" y="1524.8">15</text><text x="529.5" y="1524.8">20</text><text x="633.8" y="1524.8">25</text>
</g>
<g font-size="27" text-anchor="end">
<text x="102" y="1498.5">0</text><text x="102" y="1414.5">5</text><text x="102" y="1330.4">10</text><text x="102" y="1246.4">15</text><text x="102" y="1162.3">20</text><text x="102" y="1078.2">25</text>
</g>
<text x="373.5" y="1557" font-size="36" text-anchor="middle">Z'(ohm)</text>
<text transform="translate(60,1287) rotate(-90)" font-size="36" text-anchor="middle">-Z''(ohm)</text>
<g stroke-width="3.2">
<line x1="347.8" y1="1110.6" x2="393.9" y2="1110.6" stroke="#22e822"/>
<line x1="347.8" y1="1143" x2="393.9" y2="1143" stroke="#1414f0"/>
<line x1="347.8" y1="1175.4" x2="393.9" y2="1175.4" stroke="#ff0000"/>
<line x1="347.8" y1="1207.7" x2="393.9" y2="1207.7" stroke="#10f0f0"/>
</g>
<rect x="366.2" y="1106.1" width="9" height="9" fill="#22e822"/>
<circle cx="370.7" cy="1143" r="5.5" fill="#1414f0"/>
<rect x="366.2" y="1170.9" width="9" height="9" fill="#ff0000"/>
<rect x="366.2" y="1203.2" width="9" height="9" fill="#10f0f0"/>
<g font-size="22">
<text x="404.1" y="1118.1" fill="#22e822">NiCoSe<tspan font-size="15" dy="5">4</tspan><tspan dy="-5">/N-rGO-0</tspan></text>
<text x="404.1" y="1150.5" fill="#1414f0">NiCoSe<tspan font-size="15" dy="5">4</tspan><tspan dy="-5">/N-rGO-10</tspan></text>
<text x="404.1" y="1182.9" fill="#ff0000">NiCoSe<tspan font-size="15" dy="5">4</tspan><tspan dy="-5">/N-rGO-20</tspan></text>
<text x="404.1" y="1215.2" fill="#10f0f0">NiCoSe<tspan font-size="15" dy="5">4</tspan><tspan dy="-5">/N-rGO-30</tspan></text>
</g>
<g transform="translate(337.7,1445.7) scale(83.9,-67.8)">
<polyline class="ns" vector-effect="non-scaling-stroke" stroke="#22e822" stroke-width="2" marker-start="url(#iSqG)" marker-mid="url(#iSqG)" marker-end="url(#iSqG)" points="0.94,0.02 1.0,0.06 1.06,0.11 1.13,0.18 1.2,0.25 1.24,0.3 1.28,0.36 1.32,0.45 1.35,0.52 1.4,0.62 1.47,0.77 1.54,0.87 1.61,0.97 1.69,1.1 1.77,1.24 1.86,1.42 1.95,1.61 2.04,1.83 2.14,2.1 2.24,2.41 2.36,2.79"/>
<polyline class="ns" vector-effect="non-scaling-stroke" stroke="#10f0f0" stroke-width="2" marker-start="url(#iSqC)" marker-mid="url(#iSqC)" marker-end="url(#iSqC)" points="0.8,0.02 0.86,0.05 0.91,0.09 0.98,0.14 1.06,0.2 1.11,0.33 1.16,0.5 1.19,0.62 1.23,0.74 1.28,0.94 1.33,1.1 1.37,1.29 1.42,1.55 1.47,1.85 1.53,2.25 1.6,2.75"/>
<polyline class="ns" vector-effect="non-scaling-stroke" stroke="#1414f0" stroke-width="2" marker-start="url(#iCiB)" marker-mid="url(#iCiB)" marker-end="url(#iCiB)" points="0.77,0.02 0.83,0.06 0.89,0.11 0.95,0.18 1.0,0.25 1.05,0.32 1.08,0.39 1.11,0.47 1.13,0.55 1.15,0.64 1.17,0.74 1.2,0.89 1.24,1.04 1.26,1.24 1.3,1.48 1.33,1.78 1.37,2.12 1.42,2.55"/>
<polyline class="ns" vector-effect="non-scaling-stroke" stroke="#ff0000" stroke-width="2" marker-start="url(#iSqR)" marker-mid="url(#iSqR)" marker-end="url(#iSqR)" points="0.74,0.02 0.8,0.08 0.86,0.15 0.91,0.22 0.96,0.29 0.98,0.38 1.01,0.46 1.04,0.55 1.06,0.64 1.08,0.76 1.11,0.85 1.14,1.04 1.18,1.24 1.22,1.45 1.26,1.73 1.3,2.06 1.35,2.47"/>
</g>
<rect x="337.7" y="1242.3" width="251.7" height="203.4" fill="none" stroke="#000" stroke-width="1.3"/>
<path stroke="#000" stroke-width="1.2" fill="none" d="M337.7 1445.7v3.5M421.6 1445.7v3.5M505.5 1445.7v3.5M589.4 1445.7v3.5M379.7 1445.7v2M463.6 1445.7v2M547.5 1445.7v2M337.7 1445.7h-3.5M337.7 1377.9h-3.5M337.7 1310.1h-3.5M337.7 1242.3h-3.5M337.7 1411.8h-2M337.7 1344h-2M337.7 1276.2h-2"/>
<g font-size="13" text-anchor="middle">
<text x="337.7" y="1460">0</text><text x="421.6" y="1460">1</text><text x="505.5" y="1460">2</text><text x="589.4" y="1460">3</text>
</g>
<g font-size="13" text-anchor="end">
<text x="331" y="1450">0</text><text x="331" y="1382">1</text><text x="331" y="1314">2</text><text x="331" y="1246.5">3</text>
</g>
<text x="461" y="1475" font-size="14" text-anchor="middle">Z'(ohm)</text>
<text transform="translate(322,1341.5) rotate(-90)" font-size="14" text-anchor="middle">-Z''(ohm)</text>

<!-- ================= PANEL F ================= -->
<text x="642" y="1074" font-size="46">(f)</text>
<g transform="translate(753.5,1489) scale(0.1608,-3.5025)">
<polyline class="ns" vector-effect="non-scaling-stroke" stroke="#ff0000" stroke-width="2" marker-start="url(#fCi)" marker-mid="url(#fCi)" marker-end="url(#fCi)" points="0,100 50,104.3 100,108.7 150,108.7 200,108.7 250,108.7 300,108.7 350,108.7 400,108.7 450,108.7 500,108.7 550,104.3 600,104.3 650,108.7 700,104.3 750,104.3 800,104.3 850,100 900,100 950,100 1000,95.7 1050,95.7 1100,95.7 1150,95.7 1200,95.7 1250,95.7 1300,91.3 1350,91.3 1400,91.3 1450,91.3 1500,91.3 1550,87 1600,87 1650,87 1700,87 1750,91.3 1800,87 1850,87 1900,87 1950,87 2000,82.6 2050,82.6 2100,82.6 2150,82.6 2200,82.6 2250,82.6 2300,82.6 2350,82.6 2400,82.6 2450,87 2500,87 2550,82.6 2600,82.6 2650,82.6 2700,82.6 2750,82.6 2800,82.6 2850,82.6 2900,82.6 2950,82.6 3000,82.6"/>
</g>
<rect x="753.5" y="1068.7" width="520" height="420.3" fill="none" stroke="#000" stroke-width="2.2"/>
<path stroke="#000" stroke-width="2" fill="none" d="M753.5 1489v7M833.9 1489v7M914.3 1489v7M994.7 1489v7M1075.1 1489v7M1155.5 1489v7M1235.9 1489v7M793.7 1489v4M874.1 1489v4M954.5 1489v4M1034.9 1489v4M1115.3 1489v4M1195.7 1489v4M753.5 1489h-7M753.5 1419h-7M753.5 1348.9h-7M753.5 1278.9h-7M753.5 1208.8h-7M753.5 1138.8h-7M753.5 1068.7h-7M753.5 1454h-4M753.5 1383.9h-4M753.5 1313.9h-4M753.5 1243.8h-4M753.5 1173.8h-4M753.5 1103.7h-4"/>
<g font-size="27" text-anchor="middle">
<text x="753.5" y="1524.8">0</text><text x="833.9" y="1524.8">500</text><text x="914.3" y="1524.8">1000</text><text x="994.7" y="1524.8">1500</text><text x="1075.1" y="1524.8">2000</text><text x="1155.5" y="1524.8">2500</text><text x="1235.9" y="1524.8">3000</text>
</g>
<g font-size="27" text-anchor="end">
<text x="742" y="1498.5">0</text><text x="742" y="1428.5">20</text><text x="742" y="1358.4">40</text><text x="742" y="1288.4">60</text><text x="742" y="1218.3">80</text><text x="742" y="1148.3">100</text><text x="742" y="1078.2">120</text>
</g>
<text x="1014.5" y="1558" font-size="36" text-anchor="middle">Cycel number</text>
<text transform="translate(684,1298) rotate(-90)" font-size="35" text-anchor="middle">Capacity retention (%)</text>
<line x1="1178.8" y1="1266.4" x2="1228" y2="1220.6" stroke="#ff0000" stroke-width="3"/>
<polygon points="1235.5,1213.5 1230.8,1226.1 1222.6,1217.3" fill="#ff0000"/>
<text x="1172.7" y="1296" font-size="27" text-anchor="middle" fill="#ff0000">83%</text>
<line x1="874.7" y1="1405.5" x2="931.9" y2="1405.5" stroke="#ff0000" stroke-width="2.5"/>
<circle cx="903.3" cy="1405.5" r="4.7" fill="#ff0000"/>
<circle cx="902.5" cy="1404.8" r="1.6" fill="#ffffff"/>
<text x="945.3" y="1414.5" font-size="27" fill="#ff0000">NiCoSe<tspan font-size="18" dy="6">4</tspan><tspan dy="-6">/N-rGO-20</tspan></text>

</g>
</svg>
</body></html>
